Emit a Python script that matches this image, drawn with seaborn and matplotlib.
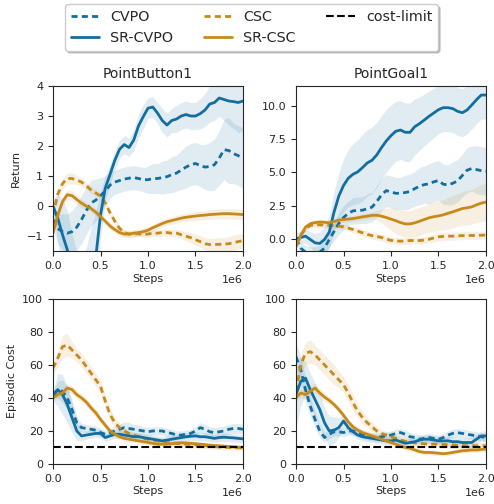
import numpy as np
import pandas as pd
import matplotlib
matplotlib.use("Agg")
import matplotlib.pyplot as plt
from matplotlib.lines import Line2D
import seaborn as sns

# ---------------- data ----------------
steps = [i * 50000 for i in range(41)]
methods = ["CVPO", "SR-CVPO", "CSC", "SR-CSC"]
panel_titles = ["PointButton1", "PointGoal1"]
cost_limit = 10

# PointButton1 return
pb_ret_cvpo = [-0.45, -0.75, -0.85, -0.9, -0.85, -0.7, -0.45, -0.15, 0.1, 0.2, 0.35, 0.5, 0.7, 0.8, 0.85, 0.9,
               0.93, 0.95, 0.92, 0.88, 0.88, 0.92, 0.92, 0.95, 0.98, 1.05, 1.1, 1.2, 1.3, 1.38, 1.42, 1.35,
               1.3, 1.32, 1.38, 1.6, 1.88, 1.85, 1.75, 1.68, 1.6]
pb_ret_cvpo_sd = [0.3, 0.5, 0.6, 0.65, 0.7, 0.75, 0.8, 0.8, 0.75, 0.7, 0.6, 0.5, 0.45, 0.4, 0.4, 0.4, 0.4, 0.4,
                  0.4, 0.4, 0.45, 0.5, 0.5, 0.55, 0.55, 0.6, 0.6, 0.65, 0.7, 0.7, 0.7, 0.7, 0.75, 0.8, 0.85,
                  0.9, 1.0, 1.1, 1.0, 1.0, 1.0]
pb_ret_srcvpo = [0.0, -0.4, -0.95, -1.45, -2.2, -2.8, -3.0, -2.8, -2.3, -1.7, -0.3, 0.6, 1.05, 1.52, 1.89, 2.05,
                 1.95, 2.2, 2.67, 2.98, 3.26, 3.3, 3.1, 2.85, 2.7, 2.85, 2.9, 3.0, 3.05, 3.0, 3.0, 3.08, 3.2,
                 3.4, 3.45, 3.6, 3.55, 3.5, 3.48, 3.45, 3.5]
pb_ret_srcvpo_sd = [0.2, 0.8, 1.2, 1.3, 1.3, 1.3, 1.3, 1.4, 1.6, 1.5, 0.8, 0.4, 0.35, 0.3, 0.3, 0.3, 0.3, 0.35,
                    0.4, 0.4, 0.35, 0.35, 0.35, 0.4, 0.4, 0.4, 0.45, 0.45, 0.45, 0.45, 0.45, 0.5, 0.55, 0.6,
                    0.6, 0.6, 0.7, 0.8, 0.9, 1.0, 1.0]
pb_ret_csc = [-0.3, 0.4, 0.75, 0.92, 0.92, 0.87, 0.8, 0.68, 0.54, 0.44, 0.33, 0.1, -0.22, -0.5, -0.74, -0.88,
              -0.93, -0.92, -0.92, -0.94, -0.93, -0.9, -0.9, -0.88, -0.88, -0.9, -0.9, -0.95, -1.0, -1.05,
              -1.12, -1.18, -1.25, -1.28, -1.28, -1.27, -1.27, -1.25, -1.22, -1.18, -1.15]
pb_ret_csc_sd = [0.12, 0.15, 0.18, 0.18, 0.18, 0.15, 0.15, 0.12, 0.12, 0.12, 0.12, 0.12, 0.1, 0.1, 0.1, 0.1,
                 0.1, 0.1, 0.1, 0.1, 0.1, 0.1, 0.12, 0.12, 0.12, 0.12, 0.12, 0.14, 0.15, 0.16, 0.18, 0.2,
                 0.2, 0.2, 0.22, 0.22, 0.22, 0.24, 0.25, 0.25, 0.25]
pb_ret_srcsc = [-0.9, -0.3, 0.15, 0.38, 0.35, 0.22, 0.1, 0.0, -0.08, -0.2, -0.35, -0.5, -0.66, -0.78, -0.88,
                -0.93, -0.93, -0.9, -0.88, -0.85, -0.8, -0.72, -0.65, -0.58, -0.52, -0.48, -0.44, -0.4, -0.37,
                -0.35, -0.33, -0.31, -0.3, -0.28, -0.27, -0.26, -0.25, -0.25, -0.26, -0.27, -0.28]
pb_ret_srcsc_sd = [0.1, 0.15, 0.15, 0.15, 0.15, 0.15, 0.15, 0.12, 0.12, 0.12, 0.12, 0.12, 0.12, 0.12, 0.12,
                   0.12, 0.12, 0.12, 0.12, 0.12, 0.12, 0.12, 0.12, 0.12, 0.12, 0.12, 0.13, 0.13, 0.14, 0.14,
                   0.15, 0.15, 0.15, 0.16, 0.16, 0.16, 0.17, 0.17, 0.17, 0.17, 0.17]

# PointGoal1 return
pg_ret_cvpo = [0.0, -0.7, -1.0, -1.1, -1.1, -1.0, -0.7, -0.05, 0.55, 1.15, 1.6, 1.92, 2.1, 2.14, 2.15, 2.26,
               2.38, 2.8, 3.3, 3.62, 3.52, 3.42, 3.42, 3.48, 3.55, 3.77, 3.95, 4.07, 4.13, 4.28, 4.38, 4.1,
               4.05, 4.17, 4.35, 4.75, 5.15, 5.28, 5.2, 5.12, 5.08]
pg_ret_cvpo_sd = [0.3, 0.4, 0.5, 0.5, 0.5, 0.5, 0.5, 0.6, 0.7, 0.8, 0.9, 0.9, 1.0, 1.0, 1.0, 1.1, 1.1, 1.2,
                  1.2, 1.2, 1.2, 1.2, 1.2, 1.3, 1.3, 1.3, 1.4, 1.4, 1.5, 1.5, 1.5, 1.5, 1.5, 1.6, 1.6, 1.6,
                  1.7, 1.7, 1.8, 1.8, 1.8]
pg_ret_srcvpo = [0.0, 0.1, 0.2, -0.05, -0.3, -0.35, -0.05, 0.5, 2.0, 3.2, 4.0, 4.55, 4.85, 5.03, 5.35, 5.7,
                 5.9, 6.3, 6.85, 7.35, 7.75, 8.08, 8.17, 8.0, 8.0, 8.42, 8.65, 8.92, 9.2, 9.45, 9.7, 9.85,
                 9.85, 9.78, 9.58, 9.47, 9.67, 10.05, 10.45, 10.8, 10.8]
pg_ret_srcvpo_sd = [0.4, 0.45, 0.5, 0.6, 0.7, 0.85, 1.0, 1.25, 1.5, 1.75, 2.0, 2.15, 2.3, 2.4, 2.5, 2.5, 2.5,
                    2.45, 2.4, 2.35, 2.3, 2.25, 2.2, 2.2, 2.2, 2.1, 2.0, 1.95, 1.9, 1.85, 1.8, 1.8, 1.8, 1.8,
                    1.8, 1.8, 1.8, 1.8, 1.8, 1.8, 1.8]
pg_ret_csc = [-0.4, 0.3, 0.75, 1.0, 1.05, 1.05, 1.03, 1.0, 0.98, 0.95, 0.9, 0.8, 0.7, 0.58, 0.45, 0.33, 0.24,
              0.17, 0.1, -0.02, -0.12, -0.16, -0.18, -0.16, -0.13, -0.13, -0.13, -0.1, -0.03, 0.06, 0.15,
              0.18, 0.2, 0.2, 0.22, 0.24, 0.25, 0.25, 0.25, 0.27, 0.28]
pg_ret_csc_sd = [0.15, 0.15, 0.15, 0.2, 0.2, 0.2, 0.2, 0.2, 0.2, 0.22, 0.22, 0.22, 0.25, 0.25, 0.25, 0.25,
                 0.25, 0.25, 0.25, 0.25, 0.25, 0.25, 0.25, 0.25, 0.25, 0.25, 0.25, 0.25, 0.28, 0.28, 0.3,
                 0.3, 0.3, 0.3, 0.3, 0.3, 0.3, 0.3, 0.3, 0.3, 0.3]
pg_ret_srcsc = [-0.6, 0.25, 0.88, 1.13, 1.22, 1.26, 1.24, 1.2, 1.3, 1.4, 1.45, 1.48, 1.52, 1.58, 1.65, 1.7,
                1.76, 1.77, 1.7, 1.6, 1.48, 1.36, 1.22, 1.12, 1.12, 1.2, 1.32, 1.45, 1.58, 1.66, 1.72, 1.8,
                1.92, 2.02, 2.15, 2.27, 2.33, 2.4, 2.55, 2.68, 2.76]
pg_ret_srcsc_sd = [0.2, 0.2, 0.2, 0.2, 0.2, 0.2, 0.2, 0.2, 0.22, 0.22, 0.22, 0.22, 0.22, 0.22, 0.24, 0.24,
                   0.25, 0.35, 0.5, 0.7, 0.85, 0.95, 1.0, 1.0, 1.0, 1.05, 1.05, 1.05, 1.1, 1.1, 1.1, 1.15,
                   1.2, 1.2, 1.25, 1.25, 1.3, 1.3, 1.35, 1.4, 1.4]

# PointButton1 cost
pb_cost_cvpo = [42, 45, 44, 40, 33, 25, 22, 21.5, 21, 20.5, 19, 18, 19, 20, 21, 22, 21.5, 21, 20.5, 20, 19.5,
                20, 20, 20, 19, 18.5, 17.5, 17.5, 18, 18.5, 20, 22, 21, 19.5, 19, 19.5, 20, 21, 21.5, 21.5, 21]
pb_cost_cvpo_sd = [2, 5, 7, 7, 6, 4, 2.5, 2.5, 2.5, 2.5, 2.5, 2.5, 2.5, 3, 3, 3.5, 3.5, 3, 3, 2.5, 2.5, 2.5,
                   2.5, 2.5, 2.5, 2.5, 2.5, 2.5, 2.5, 2.5, 2.5, 3, 3, 3, 3, 3, 3, 3, 3, 3, 3]
pb_cost_srcvpo = [41, 45, 42, 36, 28, 20, 17, 17.5, 18, 18.5, 18.5, 16, 17, 18, 18, 17.5, 17, 16.5, 16.5, 16,
                  15.5, 15, 14.5, 14, 14.5, 15, 15.5, 16, 16.5, 16.8, 17, 16.5, 16.5, 16, 15.5, 16, 16.2, 16,
                  15.8, 15.5, 15.2]
pb_cost_srcvpo_sd = [3, 10, 12, 11, 9, 6, 3, 2.5, 2.5, 2.5, 2.5, 2.5, 2.5, 2.5, 2.5, 2.5, 2.5, 2.5, 2.5, 2.5,
                     2.5, 2.5, 2.5, 2.5, 2.5, 2.5, 2.5, 2.5, 2.5, 2.5, 2.5, 2.5, 2.5, 2.5, 2.5, 2.5, 2.5, 2.5,
                     2.5, 2.5, 2.5]
pb_cost_csc = [58, 64, 71, 72, 69, 66, 63, 59, 55, 51, 47, 38, 30, 25, 22, 20, 18.5, 17.5, 16.5, 15.5, 15,
               14.5, 14, 13.5, 13, 12.7, 12.5, 12.2, 12, 11.8, 11.6, 11.3, 11, 10.8, 10.5, 10.3, 10.1, 10,
               9.9, 9.8, 9.7]
pb_cost_csc_sd = [4, 5, 7, 7, 5, 4, 4, 4, 4, 4, 4, 4, 4, 3, 3, 2.5, 2, 2, 2, 2, 2, 2, 2, 2, 2, 2, 2, 2, 2, 2,
                  1.8, 1.8, 1.8, 1.6, 1.6, 1.5, 1.5, 1.5, 1.5, 1.5, 1.5]
pb_cost_srcsc = [40, 42, 43, 46, 45, 42, 40, 37.5, 34, 31, 27, 23.5, 20, 18, 16.5, 15.5, 15, 14.5, 14, 13.5,
                 13, 12.5, 12, 12, 12, 12.3, 12.6, 12.8, 12.7, 12.5, 12.2, 12, 11.7, 11.4, 11.2, 11, 10.8,
                 10.6, 10.4, 10.2, 10.1]
pb_cost_srcsc_sd = [1.5, 2.5, 2.5, 2.5, 2.5, 2.5, 2.5, 2.5, 2.5, 2.5, 2.5, 2, 2, 2, 1.8, 1.8, 1.5, 1.5, 1.5,
                    1.5, 1.5, 1.5, 1.5, 1.5, 1.5, 1.5, 1.5, 1.5, 1.5, 1.5, 1.5, 1.2, 1.2, 1.2, 1.2, 1.2, 1.0,
                    1.0, 1.0, 1.0, 1.0]

# PointGoal1 cost
pg_cost_cvpo = [65, 57, 45, 35, 27, 20, 16, 18, 19.5, 19.5, 19, 20, 20, 19, 18, 17, 16.5, 16, 16.5, 17, 17.5,
                18.5, 19, 18, 16.5, 16, 15, 15.5, 16, 15.5, 15, 16, 17.5, 18.5, 19, 18.5, 18, 17.5, 17, 16.5, 16]
pg_cost_cvpo_sd = [8, 8, 8, 6, 5, 4, 3, 2.5, 2.5, 2.5, 2.5, 2.5, 2.5, 2.5, 2.5, 2.5, 2.5, 2.5, 2.5, 2.5, 2.5,
                   2.5, 2.5, 2.5, 2.5, 2.5, 2.5, 2.5, 2.5, 2.5, 2.5, 2.5, 2.5, 2.5, 2.5, 2.5, 2.5, 2.5, 2.5,
                   2.5, 2.5]
pg_cost_srcvpo = [42, 50, 52, 45, 39, 33, 25, 20, 20.5, 22, 26, 22, 19.5, 17.5, 16.5, 16, 15.5, 15, 14.5, 14,
                  14, 14.5, 13.5, 12.5, 13, 13.5, 14.5, 15, 15, 14.5, 14, 14, 14, 13.5, 13.5, 13, 13, 13, 15,
                  17, 17]
pg_cost_srcvpo_sd = [20, 15, 10, 10, 10, 10, 9, 9, 8, 6, 4, 3, 2.5, 2.5, 2.5, 2.5, 2.5, 2.5, 2.5, 2.5, 2.5,
                     2.5, 2.5, 2.5, 2.5, 2.5, 2.5, 2.5, 2.5, 2.5, 2.5, 2.5, 3, 3, 3, 3, 3, 3, 3, 3, 3]
pg_cost_csc = [44, 60, 67, 68, 66, 63, 60, 57, 54, 51, 48, 43, 37, 32, 28, 25, 22.5, 20, 18.5, 17.5, 16.5,
               15.5, 14.5, 13.8, 13.2, 12.8, 12.5, 12.2, 12, 12, 12, 11.8, 11.7, 11.5, 11.3, 11.2, 11, 11,
               11, 11, 11]
pg_cost_csc_sd = [5, 6, 7, 7, 6, 6, 6, 6, 6, 5, 5, 5, 5, 4, 4, 3, 3, 2.5, 2.5, 2, 2, 2, 2, 2, 2, 2, 2, 2, 2,
                  2, 2, 2, 2, 2, 2, 2, 2, 2, 2, 2, 2]
pg_cost_srcsc = [40, 43, 42, 44, 46, 43, 40.5, 38.5, 36, 33, 29.5, 25.5, 22.5, 20.5, 19, 18, 17, 16, 15, 14,
                 13, 12, 11, 10, 9.5, 8.5, 7.5, 7, 7, 6.8, 6.5, 6.2, 6.5, 7, 7.5, 8, 8.2, 8.5, 8.5, 8.8, 9]
pg_cost_srcsc_sd = [2, 3, 3, 3, 3, 3, 3, 2, 2, 2, 2, 2, 2, 2, 2, 2, 2, 2, 1.5, 1.5, 1.5, 1.5, 1.5, 1.5, 1.5,
                    1.5, 1.5, 1.5, 1.5, 1.5, 1.5, 1.5, 1.5, 1.5, 1.5, 1.5, 1.5, 1.5, 1.5, 1.5, 1.5]

# ---------------- style ----------------
sns.set_style("ticks")
plt.rcParams["font.family"] = ["DejaVu Sans"]
pal = sns.color_palette("colorblind", desat=0.8)
blue, gold = pal[0], pal[1]
styles = {
    "CVPO": (blue, (0, (2.2, 1.5))),
    "SR-CVPO": (blue, "-"),
    "CSC": (gold, (0, (2.2, 1.5))),
    "SR-CSC": (gold, "-"),
}

fig, axes = plt.subplots(2, 2, figsize=(4.94, 5.04), dpi=100)
fig.subplots_adjust(left=0.1073, right=0.9838, top=0.8294, bottom=0.0794, wspace=0.279, hspace=0.288)

panels = [
    (axes[0, 0], {"CVPO": (pb_ret_cvpo, pb_ret_cvpo_sd), "SR-CVPO": (pb_ret_srcvpo, pb_ret_srcvpo_sd),
                  "CSC": (pb_ret_csc, pb_ret_csc_sd), "SR-CSC": (pb_ret_srcsc, pb_ret_srcsc_sd)}),
    (axes[0, 1], {"CVPO": (pg_ret_cvpo, pg_ret_cvpo_sd), "SR-CVPO": (pg_ret_srcvpo, pg_ret_srcvpo_sd),
                  "CSC": (pg_ret_csc, pg_ret_csc_sd), "SR-CSC": (pg_ret_srcsc, pg_ret_srcsc_sd)}),
    (axes[1, 0], {"CVPO": (pb_cost_cvpo, pb_cost_cvpo_sd), "SR-CVPO": (pb_cost_srcvpo, pb_cost_srcvpo_sd),
                  "CSC": (pb_cost_csc, pb_cost_csc_sd), "SR-CSC": (pb_cost_srcsc, pb_cost_srcsc_sd)}),
    (axes[1, 1], {"CVPO": (pg_cost_cvpo, pg_cost_cvpo_sd), "SR-CVPO": (pg_cost_srcvpo, pg_cost_srcvpo_sd),
                  "CSC": (pg_cost_csc, pg_cost_csc_sd), "SR-CSC": (pg_cost_srcsc, pg_cost_srcsc_sd)}),
]

x = np.array(steps, dtype=float)
for ax, series in panels:
    for m in ["CVPO", "CSC", "SR-CVPO", "SR-CSC"]:
        mean, sd = series[m]
        mean = np.array(mean, dtype=float)
        sd = np.array(sd, dtype=float)
        color, ls = styles[m]
        ax.fill_between(x, mean - sd, mean + sd, color=color, alpha=0.13, linewidth=0)
    for m in ["CVPO", "CSC", "SR-CVPO", "SR-CSC"]:
        mean, sd = series[m]
        color, ls = styles[m]
        df = pd.DataFrame({"Steps": x, "value": mean})
        sns.lineplot(data=df, x="Steps", y="value", ax=ax, color=color, linestyle=ls, linewidth=2.0)
    ax.set_xlim(0, 2e6)
    ax.set_xticks([0, 0.5e6, 1e6, 1.5e6, 2e6])
    ax.set_xlabel("Steps", fontsize=8, labelpad=2)
    ax.set_ylabel("")
    ax.tick_params(labelsize=8, length=3.5, pad=3.5)
    ax.xaxis.get_offset_text().set_fontsize(8)

for ax in axes[1]:
    ax.axhline(cost_limit, color="black", linestyle=(0, (3.7, 1.6)), linewidth=1.5)
    ax.set_ylim(0, 100)
    ax.set_yticks([0, 20, 40, 60, 80, 100])

axes[0, 0].set_ylim(-1.5, 4)
axes[0, 0].set_yticks([-1, 0, 1, 2, 3, 4])
axes[0, 1].set_ylim(-0.93, 11.48)
axes[0, 1].set_yticks([0, 2.5, 5, 7.5, 10])
axes[0, 0].set_title(panel_titles[0], fontsize=10)
axes[0, 1].set_title(panel_titles[1], fontsize=10)
axes[0, 0].set_ylabel("Return", fontsize=8)
axes[1, 0].set_ylabel("Episodic Cost", fontsize=8)

handles = [
    Line2D([], [], color=blue, linestyle=styles["CVPO"][1], linewidth=2),
    Line2D([], [], color=blue, linestyle="-", linewidth=2),
    Line2D([], [], color=gold, linestyle=styles["CSC"][1], linewidth=2),
    Line2D([], [], color=gold, linestyle="-", linewidth=2),
    Line2D([], [], color="black", linestyle=(0, (3.7, 1.6)), linewidth=1.5),
]
labels = ["CVPO", "SR-CVPO", "CSC", "SR-CSC", "cost-limit"]
fig.legend(handles, labels, loc="upper center", bbox_to_anchor=(0.509, 1.006), ncol=3,
           fontsize=10.3, shadow={"ox": 1.5, "oy": -1.5, "color": "0.55"}, fancybox=True, frameon=True,
           columnspacing=2.15, handletextpad=0.75)

fig.savefig("out.png", dpi=100)
